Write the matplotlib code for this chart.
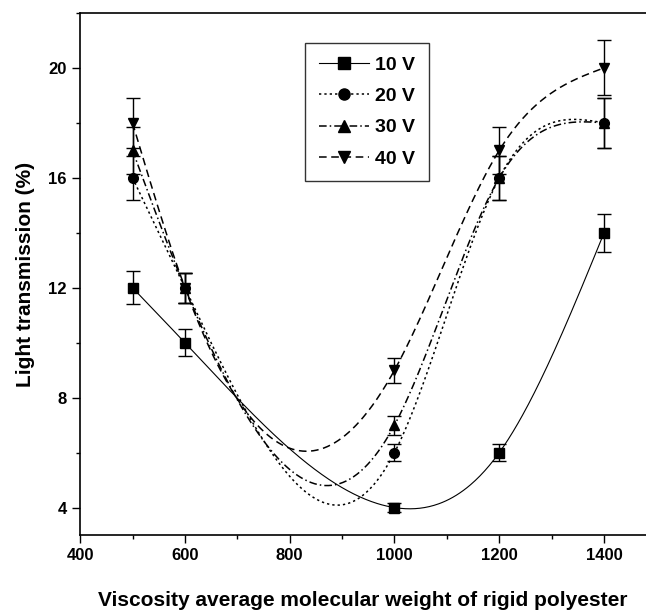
import matplotlib
matplotlib.use("Agg")
import matplotlib.pyplot as plt
import numpy as np
from matplotlib.ticker import MultipleLocator

plt.rcParams["font.family"] = ["Liberation Sans", "DejaVu Sans"]
plt.rcParams["font.weight"] = "bold"

# data
mol_weight = [500, 600, 1000, 1200, 1400]
t_10v = [12, 10, 4, 6, 14]
t_20v = [16, 12, 6, 16, 18]
t_30v = [17, 12, 7, 16, 18]
t_40v = [18, 12, 9, 17, 20]
err_10v = [0.6, 0.5, 0.15, 0.3, 0.7]
err_20v = [0.8, 0.55, 0.3, 0.8, 0.9]
err_30v = [0.85, 0.55, 0.35, 0.8, 0.9]
err_40v = [0.9, 0.55, 0.45, 0.85, 1.0]
labels = ["10 V", "20 V", "30 V", "40 V"]


def natural_spline(x, y, xs):
    # natural cubic spline through the points (smooth connecting line)
    x = np.asarray(x, float)
    y = np.asarray(y, float)
    n = len(x)
    h = np.diff(x)
    A = np.zeros((n, n))
    b = np.zeros(n)
    A[0, 0] = A[-1, -1] = 1
    for i in range(1, n - 1):
        A[i, i - 1] = h[i - 1]
        A[i, i] = 2 * (h[i - 1] + h[i])
        A[i, i + 1] = h[i]
        b[i] = 6 * ((y[i + 1] - y[i]) / h[i] - (y[i] - y[i - 1]) / h[i - 1])
    m = np.linalg.solve(A, b)
    out = np.empty_like(xs)
    for k, xv in enumerate(xs):
        i = min(max(np.searchsorted(x, xv) - 1, 0), n - 2)
        t1 = x[i + 1] - xv
        t0 = xv - x[i]
        out[k] = (m[i] * t1**3 + m[i + 1] * t0**3) / (6 * h[i]) \
            + (y[i] / h[i] - m[i] * h[i] / 6) * t1 \
            + (y[i + 1] / h[i] - m[i + 1] * h[i] / 6) * t0
    return out


fig = plt.figure(figsize=(6.46, 6.15), dpi=100)
ax = fig.add_axes([0.124, 0.130, 0.876, 0.849])

series = [t_10v, t_20v, t_30v, t_40v]
errors = [err_10v, err_20v, err_30v, err_40v]
markers = ["s", "o", "^", "v"]
styles = ["-", (0, (1.5, 2)), (0, (5, 2, 1, 2)), (0, (5, 3))]
widths = [0.8, 1.1, 1.1, 1.1]

xs = np.linspace(500, 1400, 400)
handles = []
for y, e, mk, ls, lw, lab in zip(series, errors, markers, styles, widths, labels):
    ax.plot(xs, natural_spline(mol_weight, y, xs), color="black", ls=ls, lw=lw)
    ax.errorbar(mol_weight, y, yerr=e, fmt="none", ecolor="black",
                elinewidth=1.0, capsize=5, capthick=1.0)
    ax.plot(mol_weight, y, ls="none", marker=mk, ms=7, color="black")
    h, = ax.plot([], [], color="black", ls=ls, lw=lw, marker=mk, ms=8)
    handles.append(h)

ax.set_xlim(400, 1480)
ax.set_ylim(3, 22)
ax.xaxis.set_major_locator(MultipleLocator(200))
ax.xaxis.set_minor_locator(MultipleLocator(100))
ax.yaxis.set_major_locator(MultipleLocator(4))
ax.yaxis.set_minor_locator(MultipleLocator(2))
ax.tick_params(which="major", direction="out", length=6, width=1, labelsize=12)
ax.tick_params(which="minor", direction="out", length=3, width=1)
ax.spines["right"].set_visible(False)
for s in ["left", "bottom", "top"]:
    ax.spines[s].set_linewidth(1.2)

ax.set_xlabel("Viscosity average molecular weight of rigid polyester",
              fontsize=15, fontweight="bold", labelpad=20)
ax.set_ylabel("Light transmission (%)", fontsize=15, fontweight="bold", labelpad=10)

leg = ax.legend(handles, labels, loc="upper left", bbox_to_anchor=(0.398, 0.943),
                borderaxespad=0, fontsize=14, frameon=True, fancybox=False,
                edgecolor="black", handlelength=2.6, labelspacing=0.7,
                borderpad=0.7, handletextpad=0.3)
leg.get_frame().set_linewidth(1.0)

fig.savefig("out.png", dpi=100)
